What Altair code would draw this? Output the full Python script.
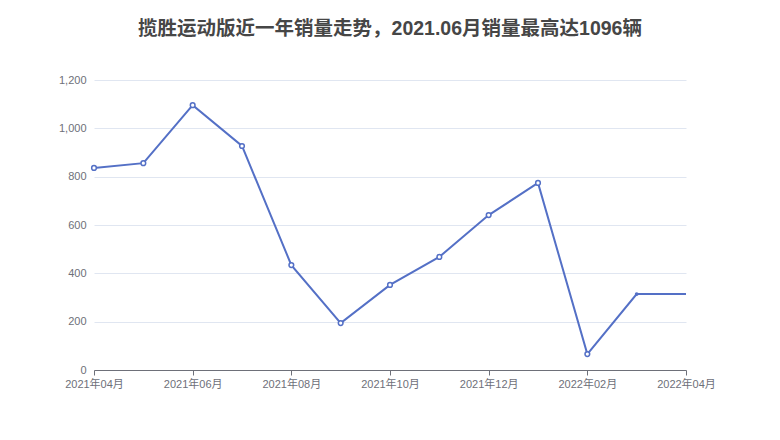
import altair as alt
import pandas as pd

months = ["2021年04月", "2021年05月", "2021年06月", "2021年07月", "2021年08月", "2021年09月",
          "2021年10月", "2021年11月", "2021年12月", "2022年01月", "2022年02月", "2022年03月",
          "2022年04月"]
sales = [836, 856, 1096, 927, 434, 194, 352, 468, 641, 774, 66, 314, 314]
marker = ["hollow"] * 11 + ["filled", "none"]

df = pd.DataFrame({"idx": list(range(len(months))), "month": months, "sales": sales, "marker": marker})

title = "揽胜运动版近一年销量走势，2021.06月销量最高达1096辆"
color = "#5470c6"
font = "Liberation Sans, Noto Sans CJK SC"

label_arr = "[" + ",".join("'" + m + "'" for m in months) + "]"

x = alt.X("idx:Q",
          scale=alt.Scale(domain=[0, len(months) - 1], nice=False, zero=False),
          axis=alt.Axis(title=None, labelExpr=label_arr + "[datum.value]", labelFontSize=11,
                        values=[0, 2, 4, 6, 8, 10, 12], labelFlush=False, labelOverlap=False,
                        labelColor="#6e7079", domainColor="#6e7079", tickColor="#6e7079",
                        tickSize=5, labelPadding=3, grid=False, labelFont=font))
y = alt.Y("sales:Q",
          scale=alt.Scale(domain=[0, 1200], nice=False),
          axis=alt.Axis(title=None, values=[0, 200, 400, 600, 800, 1000, 1200], format=",d",
                        labelColor="#6e7079", labelFontSize=11, domain=False, ticks=False,
                        labelPadding=8, gridColor="#e0e6f1", labelFont=font))

line = alt.Chart(df).mark_line(color=color, strokeWidth=2).encode(x=x, y=y)
hollow = alt.Chart(df).transform_filter(alt.datum.marker == "hollow").mark_point(
    shape="circle", size=22, filled=True, fill="white", stroke=color, strokeWidth=1.5, opacity=1
).encode(x=x, y=y)
filled = alt.Chart(df).transform_filter(alt.datum.marker == "filled").mark_point(
    shape="circle", size=14, filled=True, color=color, opacity=1
).encode(x=x, y=y)

chart = alt.layer(line, hollow, filled).properties(
    width=592, height=290,
    title=alt.TitleParams(title, fontSize=19.5, fontWeight="bold", color="#464646",
                          anchor="middle", offset=35, font=font),
    autosize=alt.AutoSizeParams(type="none"),
    padding={"left": 86, "top": 72, "right": 86, "bottom": 62},
).configure_view(stroke=None)

chart.save("out.html", embed_options={"renderer": "svg", "actions": False})
